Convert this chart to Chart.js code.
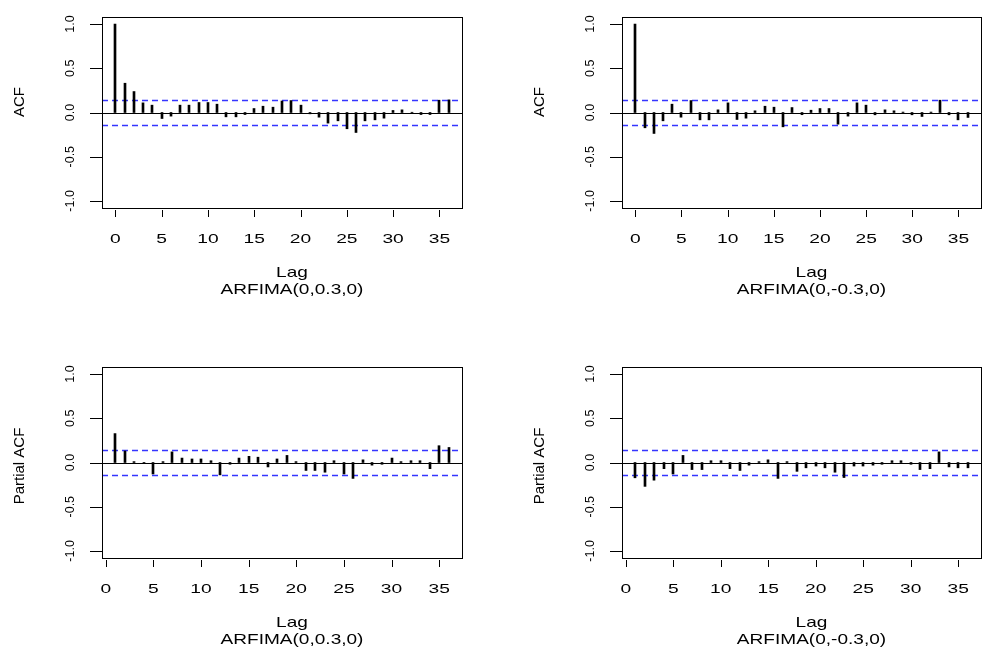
<!DOCTYPE html>
<html><head><meta charset="utf-8">
<script src="https://cdn.jsdelivr.net/npm/chart.js@4.4.1/dist/chart.umd.min.js"></script>
<style>
html,body{margin:0;padding:0;background:#fff;}
#wrap{position:relative;width:985px;height:651px;overflow:hidden;background:#fff;}
canvas{position:absolute;}
</style></head><body>
<div id="wrap">
<canvas id="c1" width="492" height="330" style="left:0;top:0"></canvas>
<canvas id="c2" width="465" height="330" style="left:520px;top:0"></canvas>
<canvas id="c3" width="492" height="302" style="left:0;top:349px"></canvas>
<canvas id="c4" width="465" height="302" style="left:520px;top:349px"></canvas>
</div>
<script>
// ---- data ----
const acfLags = [0,1,2,3,4,5,6,7,8,9,10,11,12,13,14,15,16,17,18,19,20,21,22,23,24,25,26,27,28,29,30,31,32,33,34,35,36];
const pacfLags = [1,2,3,4,5,6,7,8,9,10,11,12,13,14,15,16,17,18,19,20,21,22,23,24,25,26,27,28,29,30,31,32,33,34,35,36];
const acfPos = [1.0,0.331,0.237,0.109,0.083,-0.068,-0.041,0.083,0.083,0.113,0.113,0.094,-0.049,-0.049,-0.023,0.045,0.071,0.06,0.13,0.135,0.083,-0.015,-0.053,-0.12,-0.094,-0.184,-0.226,-0.094,-0.083,-0.064,0.023,0.03,0.003,-0.023,-0.023,0.139,0.143];
const acfNeg = [1.0,-0.173,-0.237,-0.094,0.094,-0.053,0.135,-0.083,-0.083,0.03,0.109,-0.079,-0.064,0.019,0.071,0.06,-0.162,0.056,-0.025,0.026,0.045,0.045,-0.132,-0.041,0.109,0.083,-0.026,0.03,0.019,0.005,-0.026,-0.045,0.005,0.139,-0.026,-0.083,-0.056];
const pacfPos = [0.327,0.13,0.01,-0.01,-0.13,0.01,0.12,0.05,0.04,0.04,0.02,-0.14,-0.02,0.05,0.07,0.06,-0.05,0.04,0.08,0.01,-0.09,-0.09,-0.11,0.02,-0.13,-0.18,0.03,-0.03,-0.02,0.05,0.01,0.02,0.02,-0.07,0.19,0.17];
const pacfNeg = [-0.173,-0.27,-0.2,-0.07,-0.13,0.08,-0.08,-0.08,0.02,0.02,-0.07,-0.09,-0.03,0.01,0.03,-0.18,0.01,-0.1,-0.06,-0.04,-0.06,-0.11,-0.17,-0.04,-0.04,-0.03,-0.02,0.02,0.02,-0.02,-0.08,-0.07,0.12,-0.05,-0.06,-0.06];
const ciBound = 0.139;
const xTickVals = [0,5,10,15,20,25,30,35];
const xTickText = ["0","5","10","15","20","25","30","35"];
const yTickVals = [-1,-0.5,0,0.5,1];
const yTickText = ["-1.0","-0.5","0.0","0.5","1.0"];
const xLabel = "Lag";
const subPos = "ARFIMA(0,0.3,0)";
const subNeg = "ARFIMA(0,-0.3,0)";

const FAM = "'Liberation Sans', Arial, Helvetica, sans-serif";

function sText(ctx, txt, x, y, sx, font) {
  ctx.save();
  ctx.translate(x, y);
  ctx.scale(sx, 1);
  ctx.font = font;
  ctx.fillStyle = '#000';
  ctx.textAlign = 'center';
  ctx.textBaseline = 'alphabetic';
  ctx.fillText(txt, 0, 0);
  ctx.restore();
}

const decor = {
  id: 'decor',
  afterDatasetsUpdate(chart) {
    // snap bar centres to whole pixels so the 2px stems stay crisp
    chart.getDatasetMeta(0).data.forEach(el => { el.x = Math.round(el.x); });
  },
  beforeDatasetsDraw(chart) {
    const ctx = chart.ctx, a = chart.chartArea;
    const ys = chart.scales.y;
    ctx.save();
    ctx.strokeStyle = '#3535ff';
    ctx.lineWidth = 1.4;
    ctx.setLineDash([6, 4]);
    [ciBound, -ciBound].forEach(v => {
      const py = Math.round(ys.getPixelForValue(v)) + 0.5;
      ctx.beginPath(); ctx.moveTo(a.left, py); ctx.lineTo(a.right, py); ctx.stroke();
    });
    ctx.setLineDash([]);
    ctx.strokeStyle = '#000';
    ctx.lineWidth = 1;
    const pz = Math.round(ys.getPixelForValue(0)) + 0.5;
    ctx.beginPath(); ctx.moveTo(a.left, pz); ctx.lineTo(a.right, pz); ctx.stroke();
    ctx.restore();
  },
  afterDraw(chart, args, opts) {
    const ctx = chart.ctx, a = chart.chartArea;
    const xs = chart.scales.x, ys = chart.scales.y;
    ctx.save();
    ctx.strokeStyle = '#000';
    ctx.lineWidth = 1;
    ctx.strokeRect(a.left + 0.5, a.top + 0.5, a.right - a.left, a.bottom - a.top);
    xTickVals.forEach((v, i) => {
      const px = Math.round(xs.getPixelForValue(v)) + 0.5;
      ctx.beginPath(); ctx.moveTo(px, a.bottom + 2); ctx.lineTo(px, a.bottom + 9); ctx.stroke();
      sText(ctx, xTickText[i], xs.getPixelForValue(v), a.bottom + 34.5, 1.6, '12px ' + FAM);
    });
    yTickVals.forEach((v, i) => {
      const py = Math.round(ys.getPixelForValue(v)) + 0.5;
      ctx.beginPath(); ctx.moveTo(a.left - 12, py); ctx.lineTo(a.left, py); ctx.stroke();
      ctx.save();
      ctx.translate(a.left - 28, ys.getPixelForValue(v));
      ctx.rotate(-Math.PI / 2);
      ctx.font = '12.5px ' + FAM;
      ctx.fillStyle = '#000';
      ctx.textAlign = 'center';
      ctx.textBaseline = 'alphabetic';
      ctx.fillText(yTickText[i], 0, 0);
      ctx.restore();
    });
    ctx.save();
    ctx.translate(a.left - 78, a.top + opts.yTitleOff);
    ctx.rotate(-Math.PI / 2);
    ctx.font = '15px ' + FAM;
    ctx.fillStyle = '#000';
    ctx.textAlign = 'center';
    ctx.textBaseline = 'alphabetic';
    ctx.fillText(opts.yTitle, 0, 0);
    ctx.restore();
    const cx = (a.left + a.right) / 2 + 10;
    sText(ctx, xLabel, cx, a.bottom + 69.3, 1.27, '15px ' + FAM);
    sText(ctx, opts.sub, cx, a.bottom + 86.3, 1.27, '15px ' + FAM);
    ctx.restore();
  }
};

function makeChart(id, lags, vals, xmin, xmax, yTitle, sub, yTitleOff, padTop, padRight, boxH) {
  const cv = document.getElementById(id);
  const H = cv.height;
  new Chart(cv, {
    type: 'bar',
    data: {
      datasets: [{
        data: lags.map((l, i) => ({ x: l, y: vals[i] })),
        backgroundColor: '#000',
        borderWidth: 0,
        barThickness: 2
      }]
    },
    options: {
      responsive: false,
      animation: false,
      devicePixelRatio: 1,
      layout: { padding: { left: 0, top: padTop, right: padRight, bottom: 0 } },
      plugins: { legend: { display: false }, tooltip: { enabled: false }, decor: { yTitle: yTitle, sub: sub, yTitleOff: yTitleOff } },
      scales: {
        x: {
          type: 'linear', min: xmin, max: xmax, offset: false,
          grid: { display: false }, border: { display: false },
          ticks: { display: false },
          afterFit(s) { s.height = H - padTop - boxH; }
        },
        y: {
          type: 'linear', min: -1.08, max: 1.08,
          grid: { display: false }, border: { display: false },
          ticks: { display: false },
          afterFit(s) { s.width = 102; }
        }
      }
    },
    plugins: [decor]
  });
}

makeChart('c1', acfLags, acfPos, -1.44, 37.44, 'ACF', subPos, 85, 17, 30, 191);
makeChart('c2', acfLags, acfNeg, -1.44, 37.44, 'ACF', subNeg, 85, 17, 4, 191);
makeChart('c3', pacfLags, pacfPos, -0.4, 37.4, 'Partial ACF', subPos, 99, 18, 30, 191);
makeChart('c4', pacfLags, pacfNeg, -0.4, 37.4, 'Partial ACF', subNeg, 99, 18, 4, 191);
</script>
</body></html>
